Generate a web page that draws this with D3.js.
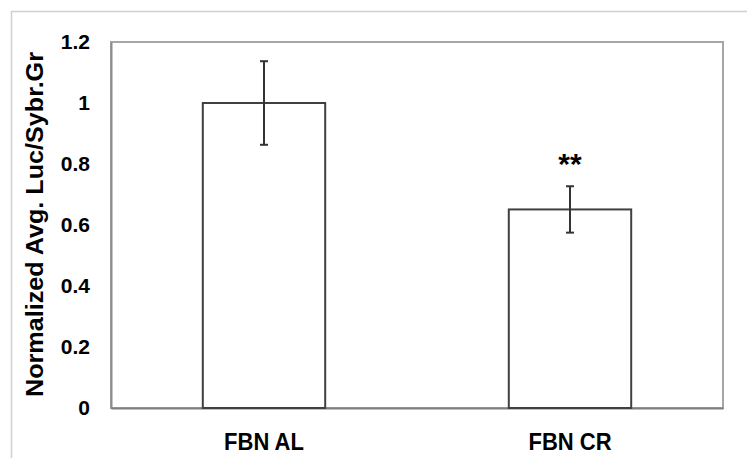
<!DOCTYPE html>
<html>
<head>
<meta charset="utf-8">
<script src="https://cdn.jsdelivr.net/npm/d3@7"></script>
<style>
body{margin:0;background:#fff}
text{font-family:Arial,"Liberation Sans",sans-serif;font-weight:bold;fill:#000}
</style>
</head>
<body>
<script>
// values
var groups=["FBN AL","FBN CR"]
var means=[1.0,0.651]
var errs=[0.137,0.076]
var marks=["","**"]
var yTicks=[0,0.2,0.4,0.6,0.8,1,1.2]

var W=747,H=458
var m={left:111,top:42,right:24,bottom:50}
var svg=d3.select("body").append("svg").attr("width",W).attr("height",H)

// outer frame (only top and left visible)
svg.append("path").attr("d","M11.5,"+H+"V11.5H"+W)
    .attr("fill","none").attr("stroke","#d0d0d0").attr("stroke-width",1.5)

var x=d3.scaleBand().domain(groups).range([m.left,W-m.right]).paddingInner(0.6).paddingOuter(0.3)
var y=d3.scaleLinear().domain([0,1.2]).range([H-m.bottom,m.top])

var g=svg.append("g")
// plot area border
g.append("rect").attr("x",m.left).attr("y",m.top)
    .attr("width",W-m.right-m.left).attr("height",H-m.bottom-m.top)
    .attr("fill","none").attr("stroke","#a6a6a6").attr("stroke-width",2)

var yAxis=g.append("g").attr("transform","translate("+m.left+",0)")
    .call(d3.axisLeft(y).tickValues(yTicks).tickSize(0).tickPadding(21).tickFormat(d3.format("")))
yAxis.select(".domain").attr("stroke","#8c8c8c").attr("stroke-width",2)
yAxis.selectAll("text").style("font-size","21px")

var xAxis=g.append("g").attr("transform","translate(0,"+(H-m.bottom)+")")
    .call(d3.axisBottom(x).tickSize(0).tickPadding(23))
xAxis.select(".domain").attr("stroke","#7f7f7f").attr("stroke-width",2)
xAxis.selectAll("text").style("font-size","22px")
    .attr("transform","scale(1,1.1)")

var bars=g.selectAll(".bar").data(groups).enter().append("g")
bars.append("rect")
    .attr("x",function(d){return x(d)})
    .attr("y",function(d,i){return y(means[i])})
    .attr("width",x.bandwidth())
    .attr("height",function(d,i){return y(0)-y(means[i])})
    .attr("fill","#fff").attr("stroke","#404040").attr("stroke-width",2)

var cx=function(d){return x(d)+x.bandwidth()/2}
bars.append("line")
    .attr("x1",cx).attr("x2",cx)
    .attr("y1",function(d,i){return y(means[i]+errs[i])})
    .attr("y2",function(d,i){return y(means[i]-errs[i])})
    .attr("stroke","#333").attr("stroke-width",2)
;[1,-1].forEach(function(s){
    bars.append("line")
        .attr("x1",function(d){return cx(d)-4}).attr("x2",function(d){return cx(d)+4})
        .attr("y1",function(d,i){return y(means[i]+s*errs[i])})
        .attr("y2",function(d,i){return y(means[i]+s*errs[i])})
        .attr("stroke","#333").attr("stroke-width",2)
})
bars.append("text")
    .attr("x",cx)
    .attr("y",function(d,i){return y(means[i]+errs[i])-12})
    .attr("text-anchor","middle").style("font-size","30px")
    .text(function(d,i){return marks[i]})

// y title
svg.append("text")
    .attr("transform","translate(43,"+((52+397)/2)+") rotate(-90)")
    .attr("text-anchor","middle").style("font-size","23px")
    .attr("textLength",345).attr("lengthAdjust","spacingAndGlyphs")
    .text("Normalized Avg. Luc/Sybr.Gr")
</script>
</body>
</html>
